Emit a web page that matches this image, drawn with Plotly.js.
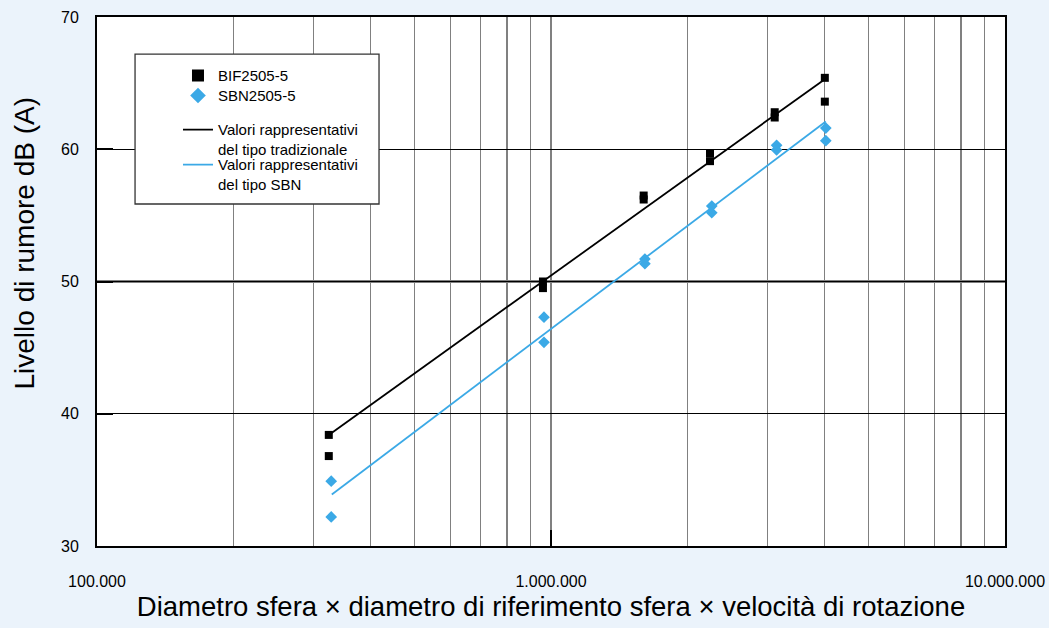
<!DOCTYPE html>
<html>
<head>
<meta charset="utf-8">
<script src="https://cdn.plot.ly/plotly-3.0.1.min.js"></script>
<style>
  html, body { margin: 0; padding: 0; background: #EBF3FB; }
  #chart { width: 1049px; height: 628px; }
</style>
</head>
<body>
<div id="chart"></div>
<script>
// ---- data ----
const bifX = [324000, 324000, 960000, 960000, 1600000, 1600000, 2240000, 2240000, 3110000, 3110000, 4010000, 4010000];
const bifY = [38.4, 36.8, 50.0, 49.5, 56.5, 56.2, 59.7, 59.1, 62.8, 62.4, 65.4, 63.6];

const sbnX = [328000, 328000, 965000, 965000, 1610000, 1610000, 2260000, 2260000, 3140000, 3140000, 4030000, 4030000];
const sbnY = [34.9, 32.2, 47.3, 45.4, 51.7, 51.35, 55.7, 55.2, 60.3, 59.95, 61.6, 60.65];

const fitTradX = [324000, 4010000];
const fitTradY = [38.4, 65.3];
const fitSbnX = [329000, 4030000];
const fitSbnY = [33.9, 62.1];

const xTickVals = [100000, 1000000, 10000000];
const xTickText = ['100.000', '1.000.000', '10.000.000'];
const xMinorVals = [200000, 300000, 400000, 500000, 600000, 700000, 800000, 900000,
                    2000000, 3000000, 4000000, 5000000, 6000000, 7000000, 8000000, 9000000];
const yTickVals = [30, 40, 50, 60, 70];

const names = {
  bif: 'BIF2505-5',
  sbn: 'SBN2505-5',
  trad: 'Valori rappresentativi<br>del tipo tradizionale',
  sbnFit: 'Valori rappresentativi<br>del tipo SBN'
};
const xTitle = 'Diametro sfera × diametro di riferimento sfera × velocità di rotazione';
const yTitle = 'Livello di rumore dB (A)';

const BLUE = '#3BA9E6';
const FONT = 'Arial, "Liberation Sans", Helvetica, sans-serif';

const traces = [
  { x: fitTradX, y: fitTradY, type: 'scatter', mode: 'lines', name: names.trad,
    line: { color: '#000000', width: 1.8 }, legend: 'legend3' },
  { x: fitSbnX, y: fitSbnY, type: 'scatter', mode: 'lines', name: names.sbnFit,
    line: { color: BLUE, width: 1.8 }, legend: 'legend4' },
  { x: bifX, y: bifY, type: 'scatter', mode: 'markers', name: names.bif,
    marker: { symbol: 'square', size: 8, color: '#000000' }, legend: 'legend' },
  { x: sbnX, y: sbnY, type: 'scatter', mode: 'markers', name: names.sbn,
    marker: { symbol: 'diamond', size: 9, color: BLUE }, legend: 'legend2' }
];

function legendAt(y, extra) {
  return Object.assign({
    x: 0.0892, xanchor: 'left', y: y, yanchor: 'top',
    bgcolor: 'rgba(0,0,0,0)', borderwidth: 0, valign: 'top',
    font: { size: 15, family: FONT, color: '#000000' },
    tracegroupgap: 0
  }, extra || {});
}

const layout = {
  width: 1049, height: 628,
  margin: { l: 97, r: 44, t: 17, b: 82 },
  paper_bgcolor: '#EBF3FB',
  plot_bgcolor: '#FFFFFF',
  font: { family: FONT, color: '#000000' },
  showlegend: true,
  hovermode: false,
  xaxis: {
    type: 'log', range: [5, 7],
    tickmode: 'array', tickvals: xTickVals, ticktext: xTickText,
    ticks: 'inside', ticklen: 16, tickwidth: 2, tickcolor: '#000000',
    ticklabelstandoff: 20,
    tickfont: { size: 16, family: FONT, color: '#000000' },
    showline: true, linecolor: '#000000', linewidth: 2, mirror: true,
    showgrid: true, gridcolor: '#808080', gridwidth: 1.2,
    minor: { tickmode: 'array', tickvals: xMinorVals, showgrid: true,
             gridcolor: '#808080', gridwidth: 1.2, ticks: '' },
    zeroline: false,
    title: { text: xTitle, font: { size: 27.5, family: FONT, color: '#000000' }, standoff: 8 },
    automargin: false
  },
  yaxis: {
    range: [30, 70],
    tickmode: 'array', tickvals: yTickVals,
    ticks: 'inside', ticklen: 16, tickwidth: 2, tickcolor: '#000000',
    ticklabelstandoff: 13,
    tickfont: { size: 16, family: FONT, color: '#000000' },
    showline: true, linecolor: '#000000', linewidth: 2, mirror: true,
    showgrid: true, gridcolor: '#000000', gridwidth: 1,
    zeroline: false,
    automargin: false
  },
  legend: legendAt(0.92, { itemsizing: 'constant' }),
  legend2: legendAt(0.8822, { itemsizing: 'constant' }),
  legend3: legendAt(0.818),
  legend4: legendAt(0.7518),
  annotations: [
    { text: yTitle, xref: 'paper', yref: 'paper', x: -0.0793, y: 0.5737,
      xanchor: 'center', yanchor: 'middle', textangle: -90, showarrow: false,
      font: { size: 28, family: FONT, color: '#000000' } }
  ],
  shapes: [
    { type: 'line', xref: 'paper', yref: 'y', x0: 0, x1: 1, y0: 50, y1: 50,
      line: { color: '#000000', width: 2 }, layer: 'below' },
    { type: 'rect', xref: 'paper', yref: 'paper', x0: 0.0419, x1: 0.3106, y0: 0.6465, y1: 0.930,
      fillcolor: '#FFFFFF', line: { color: '#333333', width: 1.3 }, layer: 'above' }
  ]
};

Plotly.newPlot('chart', traces, layout, { displayModeBar: false, staticPlot: true });
</script>
</body>
</html>
